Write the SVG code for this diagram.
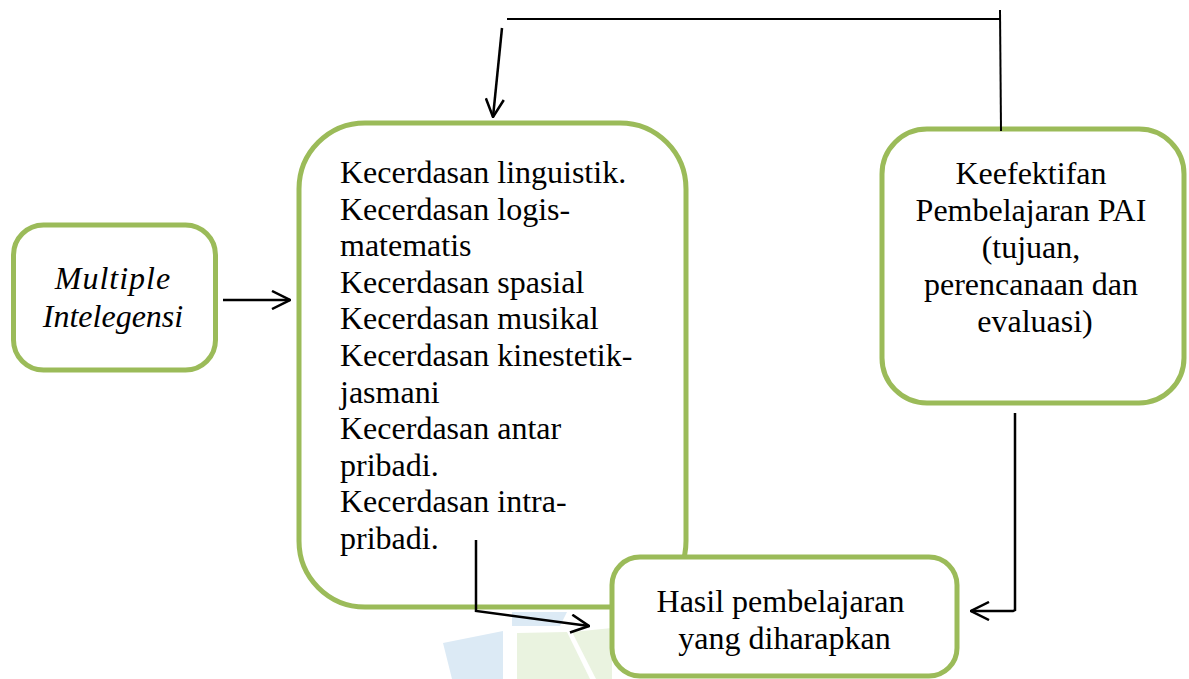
<svg xmlns="http://www.w3.org/2000/svg" width="1189" height="679" viewBox="0 0 1189 679">
<defs>
<style>
.box{fill:#fff;stroke:#9BBB59;stroke-width:5}
.t{font-family:"Liberation Serif","Times New Roman",serif;font-size:32px;fill:#000}
.c{text-anchor:middle}
.i{font-style:italic}
.ln{fill:none;stroke:#000;stroke-width:2}
.ar{fill:none;stroke:#000;stroke-width:2.5}
</style>
<marker id="arr" viewBox="0 0 20 20" refX="19" refY="10" markerWidth="20" markerHeight="20" markerUnits="userSpaceOnUse" orient="auto">
<path d="M1,1 L19,10 L1,19" fill="none" stroke="#000" stroke-width="2.5"/>
</marker>
</defs>
<rect width="1189" height="679" fill="#fff"/>
<g id="watermark">
<polygon points="512,612 567,612 560,626 512,626" fill="#DCEAF5"/>
<polygon points="443,643 503,631 503,679 452,679" fill="#DCEAF5"/>
<polygon points="517,633 567,632 590,679 517,679" fill="#EAF3E0"/>
<polygon points="572,632 612,628 612,679 596,679" fill="#EAF3E0"/>
</g>
<g id="node-multiple">
<rect class="box" x="13.5" y="225" width="202" height="145" rx="30"/>
<text class="t c i" x="113" y="289" letter-spacing="1">Multiple</text>
<text class="t c i" x="113" y="327">Intelegensi</text>
</g>
<g id="node-kecerdasan">
<rect class="box" x="299" y="123" width="387" height="484" rx="66"/>
<text class="t" x="340">
<tspan x="340" y="183">Kecerdasan linguistik.</tspan>
<tspan x="340" y="219.6">Kecerdasan logis-</tspan>
<tspan x="340" y="256.2">matematis</tspan>
<tspan x="340" y="292.8">Kecerdasan spasial</tspan>
<tspan x="340" y="329.4">Kecerdasan musikal</tspan>
<tspan x="340" y="366">Kecerdasan kinestetik-</tspan>
<tspan x="340" y="402.6">jasmani</tspan>
<tspan x="340" y="439.2">Kecerdasan antar</tspan>
<tspan x="340" y="475.8">pribadi.</tspan>
<tspan x="340" y="512.4">Kecerdasan intra-</tspan>
<tspan x="340" y="549">pribadi.</tspan>
</text>
</g>
<g id="node-keefektifan">
<rect class="box" x="882" y="129" width="302" height="274" rx="45"/>
<text class="t c" x="1035">
<tspan x="1035" y="184">Keefektifan</tspan>
<tspan x="1035" y="221">Pembelajaran PAI</tspan>
<tspan x="1035" y="258">(tujuan,</tspan>
<tspan x="1035" y="295">perencanaan dan</tspan>
<tspan x="1035" y="332">evaluasi)</tspan>
</text>
</g>
<g id="node-hasil">
<rect class="box" x="612" y="557" width="345" height="119" rx="28"/>
<text class="t c" x="784.5">
<tspan x="784.5" y="612">Hasil pembelajaran</tspan>
<tspan x="784.5" y="649">yang diharapkan</tspan>
</text>
</g>
<g id="connectors">
<line class="ar" x1="223" y1="300" x2="290" y2="300" marker-end="url(#arr)"/>
<line class="ln" x1="1001" y1="131" x2="1000" y2="10"/>
<line class="ln" x1="1000" y1="19" x2="507" y2="19"/>
<line class="ar" x1="502" y1="28" x2="493" y2="117" marker-end="url(#arr)"/>
<polyline class="ar" points="1015,413 1015,610 1013,611 971,611" marker-end="url(#arr)"/>
<polyline class="ar" points="476,540 476,611 589,626" marker-end="url(#arr)"/>
</g>
</svg>
